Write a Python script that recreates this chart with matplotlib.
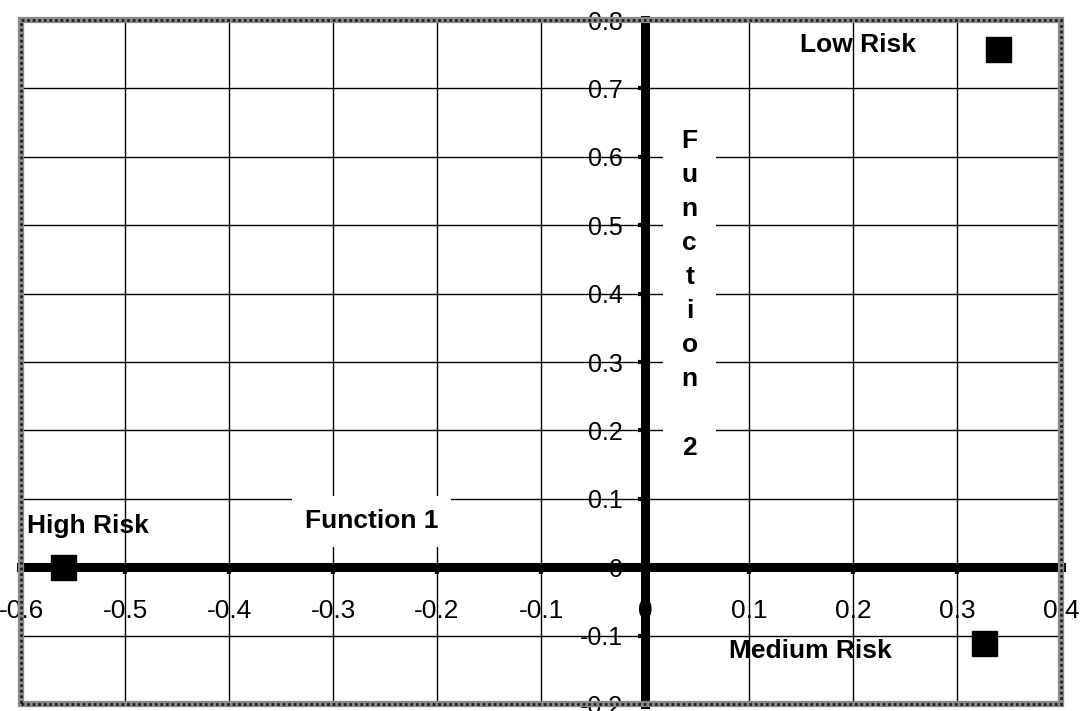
import matplotlib
matplotlib.use("Agg")
import matplotlib.pyplot as plt
from matplotlib.patches import Rectangle
import numpy as np

# ---- data ----
groups = ["High Risk", "Low Risk", "Medium Risk"]
func1 = [-0.56, 0.339, 0.326]
func2 = [0.0, 0.757, -0.111]
label_x = [-0.594, 0.205, 0.159]
label_y = [0.060, 0.763, -0.123]
label_ha = ["left", "center", "center"]
x_ticks = [-0.6, -0.5, -0.4, -0.3, -0.2, -0.1, 0.0, 0.1, 0.2, 0.3, 0.4]
y_ticks = [-0.2, -0.1, 0.0, 0.1, 0.2, 0.3, 0.4, 0.5, 0.6, 0.7, 0.8]
x_ticklabels = ["-0.6", "-0.5", "-0.4", "-0.3", "-0.2", "-0.1", "0", "0.1", "0.2", "0.3", "0.4"]
y_ticklabels = ["-0.2", "-0.1", "0", "0.1", "0.2", "0.3", "0.4", "0.5", "0.6", "0.7", "0.8"]

plt.rcParams['font.family'] = ['Liberation Sans', 'DejaVu Sans']

fig = plt.figure(figsize=(10.8, 7.11), dpi=100)
ax = fig.add_axes([21/1080, 7/711, 1040/1080, 684/711])
ax.set_xlim(-0.6, 0.4)
ax.set_ylim(-0.2, 0.8)

ax.set_xticks(x_ticks)
ax.set_xticklabels(x_ticklabels)
ax.set_yticks(y_ticks)
ax.set_yticklabels(y_ticklabels)
ax.grid(True, color='black', linewidth=1.0)

for s in ['top', 'right']:
    ax.spines[s].set_visible(False)
ax.spines['left'].set_position(('data', 0))
ax.spines['bottom'].set_position(('data', 0))
for s in ['left', 'bottom']:
    ax.spines[s].set_linewidth(6.5)
    ax.spines[s].set_color('black')

ax.tick_params(axis='x', direction='out', length=5, width=3, pad=18, labelsize=19)
ax.tick_params(axis='y', direction='out', length=5, width=3, pad=11, labelsize=18)

# points
ax.plot(func1, func2, linestyle='none', marker='s', markersize=18,
        color='black', zorder=5, clip_on=False)

# point labels
for name, lx, ly, ha in zip(groups, label_x, label_y, label_ha):
    ax.text(lx, ly, name, ha=ha, va='center', fontsize=19, fontweight='bold', zorder=4)

# axis titles
ax.text(-0.263, 0.067, "Function 1", ha='center', va='center', fontsize=19,
        fontweight='bold', zorder=4,
        bbox=dict(boxstyle='square,pad=0.5', facecolor='white', edgecolor='none'))
ax.add_patch(Rectangle((642/1040, (711-7-470)/684), 53/1040, 350/684,
                       transform=ax.transAxes, facecolor='white', edgecolor='none', zorder=2))
ax.text(0.043, 0.399, "F\nu\nn\nc\nt\ni\no\nn\n\n2", ha='center', va='center',
        fontsize=19, fontweight='bold', linespacing=1.53, zorder=4)

# outer frame
ax.add_patch(Rectangle((0, 0), 1, 1, transform=ax.transAxes, fill=False,
                       edgecolor='#8a8a8a', linewidth=4.5, clip_on=False, zorder=6))
ax.add_patch(Rectangle((0, 0), 1, 1, transform=ax.transAxes, fill=False,
                       edgecolor='#222222', linewidth=2, linestyle=(0, (1, 1)),
                       clip_on=False, zorder=7))

fig.savefig("out.png", dpi=100)
